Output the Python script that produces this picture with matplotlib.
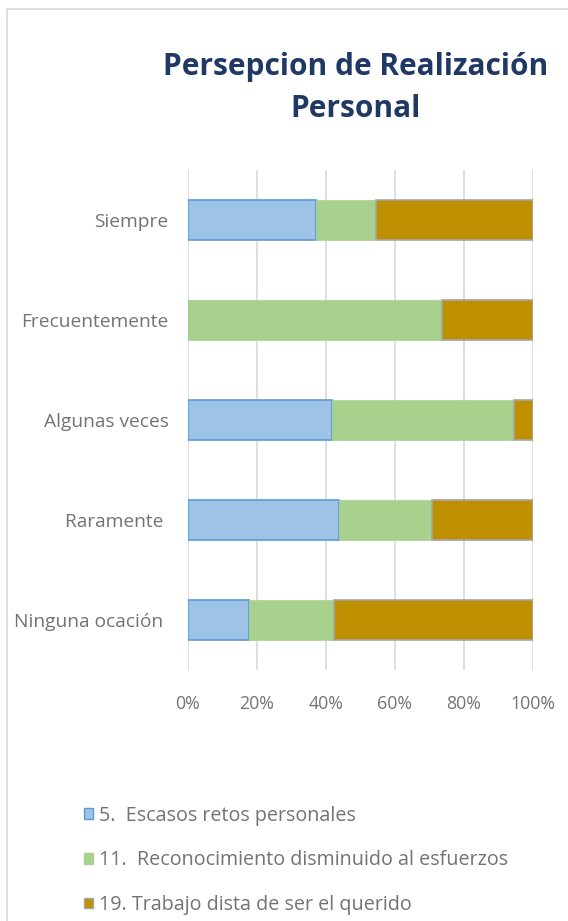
import matplotlib.pyplot as plt
from matplotlib.patches import Rectangle, Patch

categorias = ["Siempre", "Frecuentemente", "Algunas veces", "Raramente ", "Ninguna ocación "]
retos = [37, 0, 41.6, 43.9, 17.7]
reconocimiento = [17.4, 73.5, 53.0, 26.7, 24.6]
trabajo = [45.6, 26.5, 5.4, 29.4, 57.7]
series_nombres = [
    "5.  Escasos retos personales",
    "11.  Reconocimiento disminuido al esfuerzos",
    "19. Trabajo dista de ser el querido",
]

W, H = 568, 921
fig = plt.figure(figsize=(W / 100, H / 100), dpi=100)
plt.rcParams["font.family"] = ["Open Sans", "DejaVu Sans"]

# borde del area del grafico
fig.patches.append(Rectangle((7 / W, -0.05), 1.1, 1 - 9 / H + 0.05, transform=fig.transFigure,
                             fill=False, edgecolor="#d9d9d9", linewidth=1.2))

ax = fig.add_axes([188 / W, 1 - 670 / H, 345 / W, 500 / H])
y = list(range(len(categorias)))
izq2 = [a for a in retos]
izq3 = [a + b for a, b in zip(retos, reconocimiento)]
alto = 0.4
ax.barh(y, retos, height=alto, color="#9dc3e6", edgecolor="#5b9bd5", linewidth=1.2)
ax.barh(y, reconocimiento, left=izq2, height=alto, color="#a9d18e", edgecolor="#a9d18e", linewidth=0.5)
ax.barh(y, trabajo, left=izq3, height=alto, color="#bf9000", edgecolor="#a5a5a5", linewidth=1.2)

ax.set_xlim(0, 100)
ax.set_ylim(len(categorias) - 0.5, -0.5)
ax.set_xticks([0, 20, 40, 60, 80, 100])
ax.set_xticklabels(["0%", "20%", "40%", "60%", "80%", "100%"])
ax.set_yticks(y)
ax.set_yticklabels(categorias)
ax.grid(axis="x", color="#d9d9d9", linewidth=1.2)
ax.set_axisbelow(True)
for s in ax.spines.values():
    s.set_visible(False)
ax.tick_params(length=0, colors="#737373")
ax.tick_params(axis="x", pad=18, labelsize=12.8)
ax.tick_params(axis="y", pad=14, labelsize=13.8)

fig.text(356 / W, 1 - 67 / H, "Persepcion de Realización", ha="center", va="center",
         fontsize=21.5, fontweight="bold", color="#1f3864")
fig.text(356 / W, 1 - 109 / H, "Personal", ha="center", va="center",
         fontsize=21.5, fontweight="bold", color="#1f3864")

handles = [Patch(facecolor="#9dc3e6", edgecolor="#5b9bd5"),
           Patch(facecolor="#a9d18e", edgecolor="#a9d18e"),
           Patch(facecolor="#bf9000", edgecolor="#a5a5a5")]
leg = fig.legend(handles, series_nombres, loc="upper left", bbox_to_anchor=(66 / W, 1 - 788 / H),
                 frameon=False, fontsize=14.2, labelcolor="#737373", handlelength=0.45,
                 handleheight=0.45, handletextpad=0.3, labelspacing=1.25)

fig.savefig("out.png", dpi=100)
